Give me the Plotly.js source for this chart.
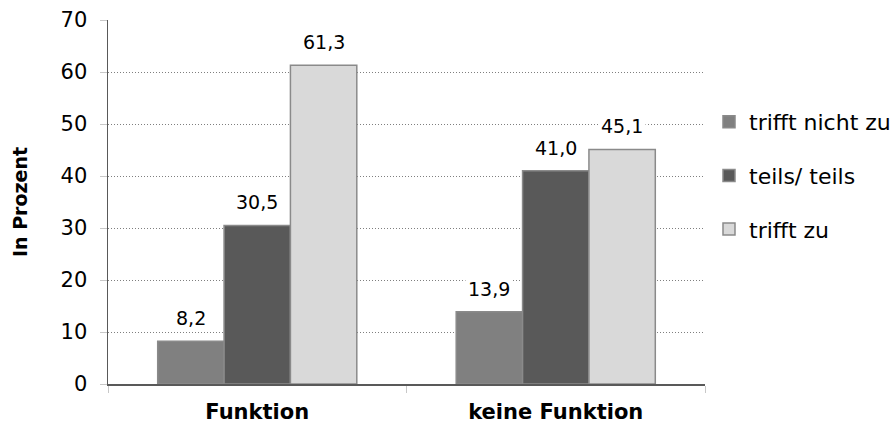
<!DOCTYPE html>
<html>
<head>
<meta charset="utf-8">
<script src="https://cdn.plot.ly/plotly-3.0.1.min.js"></script>
<style>html,body{margin:0;padding:0;background:#fff;}#chart{width:893px;height:427px;}</style>
</head>
<body>
<div id="chart"></div>
<script>
const categories = ["Funktion", "keine Funktion"];
const seriesNames = ["trifft nicht zu", "teils/ teils", "trifft zu"];
const trifftNichtZu = [8.2, 13.9];
const teilsTeils = [30.5, 41.0];
const trifftZu = [61.3, 45.1];
const yTicks = [0, 10, 20, 30, 40, 50, 60, 70];

const seriesValues = [trifftNichtZu, teilsTeils, trifftZu];
const colors = ["#808080", "#595959", "#d9d9d9"];
const font = "DejaVu Sans, sans-serif";

const traces = seriesValues.map((vals, j) => ({
  type: "bar",
  name: seriesNames[j],
  x: categories,
  y: vals,
  legendgroup: "g" + j,
  marker: {color: colors[j], line: {color: "#8a8a8a", width: 1.5}},
  hoverinfo: "x+y+name"
}));

const bargap = 0.333;
const barW = (1 - bargap) / seriesValues.length;
const annotations = [];
seriesValues.forEach((vals, j) => {
  vals.forEach((v, i) => {
    annotations.push({
      x: i + (j - 1) * barW, y: v, xref: "x", yref: "y",
      text: v.toFixed(1).replace(".", ","),
      showarrow: false, yanchor: "bottom", yshift: 9,
      bgcolor: "#ffffff", borderpad: 2,
      font: {family: font, size: 19, color: "#000"}
    });
  });
});

const layout = {
  width: 893, height: 427,
  margin: {l: 108, r: 188, t: 20, b: 43, autoexpand: false},
  paper_bgcolor: "#fff", plot_bgcolor: "#fff",
  barmode: "group", bargap: bargap, bargroupgap: 0,
  font: {family: font, color: "#000"},
  xaxis: {
    type: "category", range: [-0.5, 1.5],
    showline: true, linecolor: "#595959", linewidth: 1.5,
    ticks: "outside", tickson: "boundaries", ticklen: 7, tickcolor: "#c8c8c8",
    tickfont: {family: font, size: 21, color: "#000", weight: "bold"},
    ticklabelstandoff: 8,
    showgrid: false, fixedrange: true
  },
  yaxis: {
    range: [0, 70], tickvals: yTicks, ticktext: yTicks.map(String),
    showline: true, linecolor: "#595959", linewidth: 1.5,
    ticks: "outside", ticklen: 7, tickcolor: "#c8c8c8",
    tickfont: {family: font, size: 21, color: "#000"},
    ticklabelstandoff: 8,
    showgrid: true, gridcolor: "#7f7f7f", griddash: "1px,2px", gridwidth: 1,
    zeroline: false,
    title: {text: "<b>In Prozent</b>", font: {family: font, size: 19, color: "#000"}, standoff: 28},
    fixedrange: true
  },
  showlegend: true,
  legend: {
    x: 1.0067, xanchor: "left", y: 0.7775, yanchor: "top",
    font: {family: font, size: 22, color: "#000"},
    tracegroupgap: 22, itemwidth: 30, traceorder: "grouped",
    bgcolor: "rgba(0,0,0,0)"
  },
  annotations: annotations
};

Plotly.newPlot("chart", traces, layout, {displayModeBar: false, staticPlot: true});
</script>
</body>
</html>
